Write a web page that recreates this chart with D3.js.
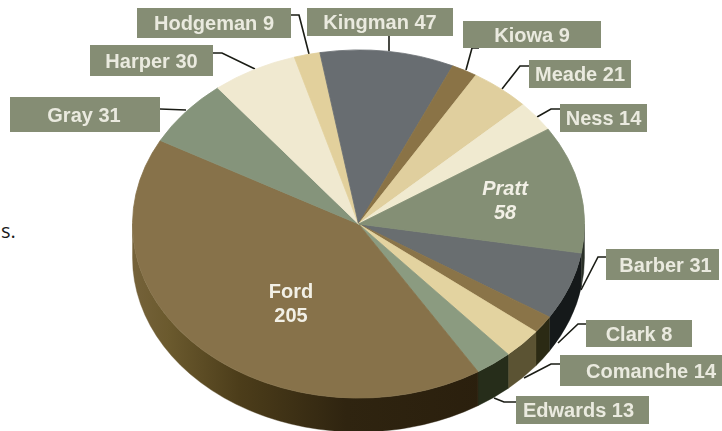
<!DOCTYPE html>
<meta charset="utf-8">

<head>
    <style>
        body { margin: 0; background: #fff; }
        text { font-family: "Liberation Sans", Arial, sans-serif; font-weight: bold; }
    </style>
    <script src="https://d3js.org/d3.v7.min.js"></script>
</head>

<body>
    <div id="my_dataviz"></div>

    <script>
        // values, clockwise from Barber
        const counties = ["Barber", "Clark", "Comanche", "Edwards", "Ford", "Gray", "Harper",
            "Hodgeman", "Kingman", "Kiowa", "Meade", "Ness", "Pratt"];
        const visits = [31, 8, 14, 13, 205, 31, 30, 9, 47, 9, 21, 14, 58];

        const topColors = ["#696e70", "#8a7448", "#e3d3a0", "#8b9b80", "#87724a", "#85947b", "#f0e9d0",
            "#e2d09c", "#686d71", "#8a7346", "#e0cf9e", "#f0ead0", "#848f75"];
        const wallColors = ["#15191a", "#2b2a14", "#5b5333", "#262d1a", "url(#fordWall)", "#6b5a30", "#6b5a30",
            "#6b5a30", "#6b5a30", "#6b5a30", "#6b5a30", "#6b5a30", "#2a3028"];

        const width = 722, height = 431;
        const cx = 358.5, cy = 224, rx = 226, ry = 174, depth = 34;
        const startDeg = 99.6;

        // callout boxes: box [x, y, w, h], text nudge, leader points
        const callouts = {
            Hodgeman: { box: [137, 8, 154, 30], dx: 0, leader: [[291, 15], [299, 15], [309, 54]] },
            Harper: { box: [90, 45, 123, 31], dx: 0, leader: [[213, 53], [222, 53], [255, 69]] },
            Gray: { box: [10, 97, 150, 35], dx: -1, leader: [[160, 109], [186, 110]] },
            Kingman: { box: [307, 8, 146, 28], dx: 0, leader: [[389, 36], [389, 51]] },
            Kiowa: { box: [463, 21, 138, 27], dx: 0, leader: [[479, 48], [472, 48], [466, 70]] },
            Meade: { box: [529, 60, 102, 28], dx: 0, leader: [[529, 66], [520, 66], [502, 89]] },
            Ness: { box: [560, 104, 87, 28], dx: 0, leader: [[560, 109], [551, 109], [537, 117]] },
            Barber: { box: [606, 249, 113, 31], dx: 3, leader: [[606, 257], [598, 257], [581, 290]] },
            Clark: { box: [586, 320, 106, 27], dx: 0, leader: [[586, 324], [578, 324], [558, 343]] },
            Comanche: { box: [560, 355, 162, 31], dx: 10, leader: [[560, 364], [551, 364], [524, 378]] },
            Edwards: { box: [516, 396, 133, 28], dx: -4, leader: [[516, 402], [504, 402], [494, 398]] }
        };
        // the two big slices carry their label inside, position of the first baseline
        const insideLabels = { Ford: [291, 298], Pratt: [505, 195] };

        const svg = d3.select("#my_dataviz")
            .append("svg")
            .attr("width", width)
            .attr("height", height)
            .style("display", "block");

        const defs = svg.append("defs");
        const fordWall = defs.append("linearGradient")
            .attr("id", "fordWall")
            .attr("gradientUnits", "userSpaceOnUse")
            .attr("x1", cx - rx).attr("x2", cx + 130).attr("y1", 0).attr("y2", 0);
        [[0, "#75623a"], [0.1, "#6b5a2e"], [0.3, "#4c3d1a"], [0.6, "#2f2410"], [1, "#2a1f0d"]].forEach(s => {
            fordWall.append("stop").attr("offset", s[0]).attr("stop-color", s[1]);
        });
        defs.append("filter").attr("id", "soft")
            .append("feGaussianBlur").attr("stdDeviation", 0.45);

        const pie = d3.pie()
            .sort(null)
            .startAngle(startDeg * Math.PI / 180)
            .endAngle((startDeg + 360) * Math.PI / 180);
        const slices = pie(visits).map((d, i) => ({ ...d, name: counties[i], top: topColors[i], wall: wallColors[i] }));

        // leaders first, the pie covers their ends
        const line = d3.line();
        const leaderG = svg.append("g");
        Object.entries(callouts).forEach(([name, c]) => {
            leaderG.append("path")
                .attr("d", line(c.leader))
                .attr("fill", "none")
                .attr("stroke", "#1a1c15")
                .attr("stroke-width", 1.6);
        });

        // outer point of the ellipse at a pie angle
        const ex = a => cx + rx * Math.sin(a);
        const ey = a => cy - ry * Math.cos(a);

        // side wall, only the part facing us (90deg to 270deg)
        const lo = Math.PI / 2, hi = 3 * Math.PI / 2;
        const walls = slices.flatMap(d => [0, -2 * Math.PI].map(shift => {
            const a0 = Math.max(d.startAngle + shift, lo), a1 = Math.min(d.endAngle + shift, hi);
            return a1 > a0 ? { a0, a1, wall: d.wall } : null;
        })).filter(Boolean);

        svg.append("g").selectAll("path")
            .data(walls)
            .enter()
            .append("path")
            .attr("fill", d => d.wall)
            .attr("stroke", d => d.wall)
            .attr("stroke-width", 0.4)
            .attr("d", d => {
                const arcFlag = d.a1 - d.a0 > Math.PI ? 1 : 0;
                return "M" + ex(d.a0) + "," + ey(d.a0)
                    + "A" + rx + "," + ry + " 0 " + arcFlag + " 1 " + ex(d.a1) + "," + ey(d.a1)
                    + "L" + ex(d.a1) + "," + (ey(d.a1) + depth)
                    + "A" + rx + "," + ry + " 0 " + arcFlag + " 0 " + ex(d.a0) + "," + (ey(d.a0) + depth)
                    + "Z";
            });

        // top face: unit arc squashed to the ellipse
        const arc = d3.arc().innerRadius(0).outerRadius(1);
        svg.append("g")
            .attr("transform", "translate(" + cx + "," + cy + ") scale(" + rx + "," + ry + ")")
            .selectAll("path")
            .data(slices)
            .enter()
            .append("path")
            .attr("d", arc)
            .attr("fill", d => d.top)
            .attr("stroke", d => d.top)
            .attr("stroke-width", 0.004);

        // callout boxes
        const boxes = svg.append("g")
            .selectAll("g")
            .data(slices.filter(d => callouts[d.name]))
            .enter()
            .append("g");

        boxes.append("rect")
            .attr("x", d => callouts[d.name].box[0])
            .attr("y", d => callouts[d.name].box[1])
            .attr("width", d => callouts[d.name].box[2])
            .attr("height", d => callouts[d.name].box[3])
            .attr("fill", "#858d74");

        boxes.append("text")
            .attr("x", d => callouts[d.name].box[0] + callouts[d.name].box[2] / 2 + callouts[d.name].dx)
            .attr("y", d => callouts[d.name].box[1] + callouts[d.name].box[3] / 2 + 7)
            .attr("text-anchor", "middle")
            .attr("font-size", 20)
            .attr("fill", "#eaeadf")
            .attr("filter", "url(#soft)")
            .text(d => d.name + " " + d.value);

        // labels inside Ford and Pratt
        const inside = svg.append("g")
            .selectAll("text")
            .data(slices.filter(d => insideLabels[d.name]))
            .enter()
            .append("text")
            .attr("text-anchor", "middle")
            .attr("font-size", 20)
            .attr("font-style", d => d.name === "Pratt" ? "italic" : "normal")
            .attr("fill", "#f2f0e6")
            .attr("filter", "url(#soft)")
            .attr("transform", d => "translate(" + insideLabels[d.name][0] + "," + insideLabels[d.name][1] + ")");
        inside.append("tspan").attr("x", 0).attr("dy", 0).text(d => d.name);
        inside.append("tspan").attr("x", 0).attr("dy", 24).text(d => d.value);

        // stray end of a sentence cut off at the left of the source page
        svg.append("text")
            .attr("x", 1)
            .attr("y", 238)
            .attr("font-size", 20)
            .style("font-family", "'Open Sans', sans-serif")
            .style("font-weight", "normal")
            .attr("fill", "#1a1a1a")
            .text("s.");
    </script>
</body>
